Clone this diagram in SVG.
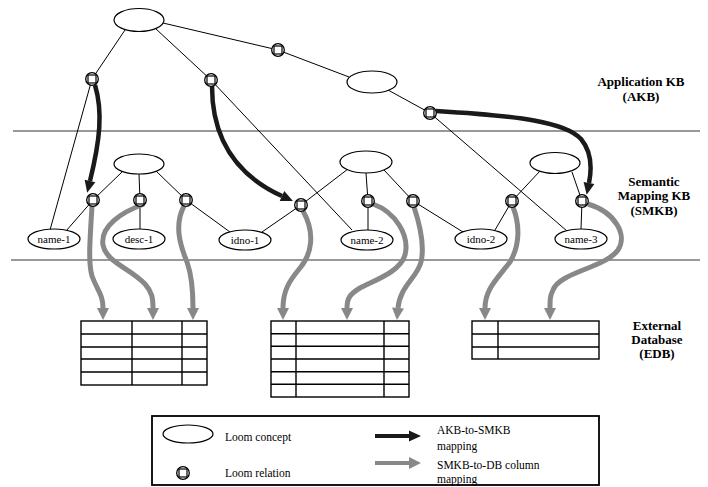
<svg xmlns="http://www.w3.org/2000/svg" width="708" height="487" viewBox="0 0 708 487">
<defs>
<style>
.ln{stroke:#000;stroke-width:1;fill:none}
.band{stroke:#999;stroke-width:2.2;fill:none}
.blk{stroke:#1a1a1a;stroke-width:4.5;fill:none}
.gry{stroke:#888;stroke-width:5;fill:none}
.con{fill:#fff;stroke:#000;stroke-width:1.2}
.tb{fill:none;stroke:#000;stroke-width:1.4}
text{font-family:"Liberation Serif","Times New Roman","DejaVu Serif",serif}
.lbl{font-size:11px;fill:#000}
.hd{font-size:13px;font-weight:bold;fill:#000;text-anchor:middle}
.lg{font-size:11.5px;fill:#000}
</style>
<symbol id="relg" viewBox="-7 -7 14 14" overflow="visible">
<circle r="6.3" fill="#fff" stroke="#000" stroke-width="1.3"/>
<rect x="-4" y="-4" width="8" height="8" fill="#fff" stroke="#000" stroke-width="1.2"/>
</symbol>
<marker id="ahB" markerUnits="userSpaceOnUse" markerWidth="14" markerHeight="12" viewBox="0 -6 13 12" refX="0" refY="0" orient="auto">
<path d="M0,-5.5 L12,0 L0,5.5 Z" fill="#1a1a1a"/>
</marker>
<marker id="ahG" markerUnits="userSpaceOnUse" markerWidth="14" markerHeight="14" viewBox="0 -7 13 14" refX="0" refY="0" orient="auto">
<path d="M0,-6 L12,0 L0,6 Z" fill="#888"/>
</marker>
</defs>
<rect width="708" height="487" fill="#fff"/>

<g id="bands">
<line class="band" x1="13" y1="131" x2="700" y2="131"/>
<line class="band" x1="11" y1="260" x2="700" y2="260"/>
</g>

<g id="connectors">
<line class="ln" x1="125" y1="30" x2="92" y2="79"/>
<line class="ln" x1="92" y1="79" x2="50" y2="230"/>
<line class="ln" x1="156" y1="29" x2="211" y2="80"/>
<line class="ln" x1="211" y1="80" x2="352" y2="230"/>
<line class="ln" x1="163" y1="23" x2="278" y2="50"/>
<line class="ln" x1="278" y1="50" x2="349" y2="77"/>
<line class="ln" x1="388" y1="90" x2="430" y2="113"/>
<line class="ln" x1="430" y1="113" x2="567" y2="231"/>
<line class="ln" x1="122" y1="172" x2="93" y2="200"/>
<line class="ln" x1="93" y1="200" x2="66" y2="231"/>
<line class="ln" x1="139" y1="174" x2="140" y2="200"/>
<line class="ln" x1="140" y1="200" x2="140" y2="229"/>
<line class="ln" x1="156" y1="171" x2="186" y2="200"/>
<line class="ln" x1="186" y1="200" x2="230" y2="232"/>
<line class="ln" x1="348" y1="169" x2="301" y2="205"/>
<line class="ln" x1="301" y1="205" x2="262" y2="232"/>
<line class="ln" x1="366" y1="173" x2="368" y2="201"/>
<line class="ln" x1="368" y1="201" x2="368" y2="230"/>
<line class="ln" x1="384" y1="170" x2="413" y2="201"/>
<line class="ln" x1="413" y1="201" x2="463" y2="232"/>
<line class="ln" x1="540" y1="171" x2="512" y2="201"/>
<line class="ln" x1="512" y1="201" x2="495" y2="230"/>
<line class="ln" x1="572" y1="172" x2="582" y2="201"/>
<line class="ln" x1="582" y1="201" x2="581" y2="229"/>
<path class="blk" marker-end="url(#ahB)" d="M95,85 C103,112 100,140 90,181"/>
<path class="blk" marker-end="url(#ahB)" d="M212,86 C212,140 238,176 282,196"/>
<path class="blk" marker-end="url(#ahB)" d="M436,111 C520,116 565,122 581,139 C591,151 592,168 589,183"/>
<path class="gry" marker-end="url(#ahG)" d="M92,206 C90,240 88,262 92,276 C97,290 103,294 103,308"/>
<path class="gry" marker-end="url(#ahG)" d="M144,204 C122,212 100,226 103,245 C106,262 130,268 145,284 C152,292 153,298 153,308"/>
<path class="gry" marker-end="url(#ahG)" d="M184,206 C174,225 180,245 187,262 C192,276 193,290 193,308"/>
<path class="gry" marker-end="url(#ahG)" d="M303,211 C316,234 311,255 300,268 C290,280 283,290 283,308"/>
<path class="gry" marker-end="url(#ahG)" d="M373,204 C395,212 410,235 405,255 C400,272 375,280 360,288 C350,294 347,298 347,308"/>
<path class="gry" marker-end="url(#ahG)" d="M414,207 C420,225 425,245 421,262 C417,278 400,286 398,308"/>
<path class="gry" marker-end="url(#ahG)" d="M513,207 C520,225 520,245 510,262 C496,280 485,290 485,308"/>
<path class="gry" marker-end="url(#ahG)" d="M588,204 C615,212 628,235 618,250 C605,268 560,272 553,290 C550,296 550,300 550,308"/>
</g>

<g id="akb-concept-top"><ellipse class="con" cx="139" cy="20" rx="25" ry="11.5"/></g>
<g id="akb-concept-2"><ellipse class="con" cx="372" cy="82" rx="25" ry="11"/></g>
<g id="akb-rel-1"><use href="#relg" x="85" y="72" width="14" height="14"/></g>
<g id="akb-rel-2"><use href="#relg" x="204" y="73" width="14" height="14"/></g>
<g id="akb-rel-3"><use href="#relg" x="271" y="43" width="14" height="14"/></g>
<g id="akb-rel-4"><use href="#relg" x="423" y="106" width="14" height="14"/></g>

<g id="smkb-concept-1"><ellipse class="con" cx="139" cy="164" rx="25" ry="10"/></g>
<g id="smkb-concept-2"><ellipse class="con" cx="366" cy="162" rx="26" ry="11"/></g>
<g id="smkb-concept-3"><ellipse class="con" cx="555" cy="163" rx="25" ry="10.5"/></g>
<g id="smkb-rel-1"><use href="#relg" x="86" y="193" width="14" height="14"/></g>
<g id="smkb-rel-2"><use href="#relg" x="133" y="193" width="14" height="14"/></g>
<g id="smkb-rel-3"><use href="#relg" x="179" y="193" width="14" height="14"/></g>
<g id="smkb-rel-4"><use href="#relg" x="294" y="198" width="14" height="14"/></g>
<g id="smkb-rel-5"><use href="#relg" x="361" y="194" width="14" height="14"/></g>
<g id="smkb-rel-6"><use href="#relg" x="406" y="194" width="14" height="14"/></g>
<g id="smkb-rel-7"><use href="#relg" x="505" y="194" width="14" height="14"/></g>
<g id="smkb-rel-8"><use href="#relg" x="575" y="194" width="14" height="14"/></g>

<g id="name-1"><ellipse class="con" cx="54" cy="239" rx="26" ry="10"/><text class="lbl" x="54" y="243" text-anchor="middle">name-1</text></g>
<g id="desc-1"><ellipse class="con" cx="139" cy="239" rx="26" ry="10"/><text class="lbl" x="139" y="243" text-anchor="middle">desc-1</text></g>
<g id="idno-1"><ellipse class="con" cx="245" cy="240" rx="26" ry="10"/><text class="lbl" x="245" y="244" text-anchor="middle">idno-1</text></g>
<g id="name-2"><ellipse class="con" cx="367" cy="240" rx="26" ry="10"/><text class="lbl" x="367" y="244" text-anchor="middle">name-2</text></g>
<g id="idno-2"><ellipse class="con" cx="481" cy="239" rx="26" ry="10"/><text class="lbl" x="481" y="243" text-anchor="middle">idno-2</text></g>
<g id="name-3"><ellipse class="con" cx="581" cy="239" rx="26" ry="10"/><text class="lbl" x="581" y="243" text-anchor="middle">name-3</text></g>

<g id="table-1">
<rect class="tb" x="81" y="321" width="126" height="64"/>
<path class="tb" d="M132,321V385M182,321V385M81,334H207M81,347H207M81,359H207M81,372H207"/>
</g>
<g id="table-2">
<rect class="tb" x="271" y="321" width="138" height="76"/>
<path class="tb" d="M296,321V397M384,321V397M271,333.7H409M271,346.3H409M271,359H409M271,371.7H409M271,384.3H409"/>
</g>
<g id="table-3">
<rect class="tb" x="472" y="321" width="127" height="38"/>
<path class="tb" d="M498,321V359M472,334H599M472,347H599"/>
</g>

<g id="labels">
<text class="hd" x="641" y="86">Application KB</text>
<text class="hd" x="641" y="101">(AKB)</text>
<text class="hd" x="654" y="186">Semantic</text>
<text class="hd" x="654" y="200">Mapping KB</text>
<text class="hd" x="654" y="215">(SMKB)</text>
<text class="hd" x="657" y="330">External</text>
<text class="hd" x="657" y="344">Database</text>
<text class="hd" x="657" y="358">(EDB)</text>
</g>

<g id="legend">
<rect x="152" y="416" width="447" height="69" fill="none" stroke="#000" stroke-width="1.8"/>
<ellipse class="con" cx="188" cy="434" rx="25" ry="9"/>
<text class="lg" x="225" y="441">Loom concept</text>
<use href="#relg" x="176" y="466" width="14" height="14"/>
<text class="lg" x="225" y="477">Loom relation</text>
<path class="blk" marker-end="url(#ahB)" d="M375,436 H409" style="stroke-width:4"/>
<path class="gry" marker-end="url(#ahG)" d="M375,463 H409" style="stroke-width:4"/>
<text class="lg" x="437" y="434">AKB-to-SMKB</text>
<text class="lg" x="437" y="450">mapping</text>
<text class="lg" x="437" y="469">SMKB-to-DB column</text>
<text class="lg" x="437" y="483">mapping</text>
</g>
</svg>
